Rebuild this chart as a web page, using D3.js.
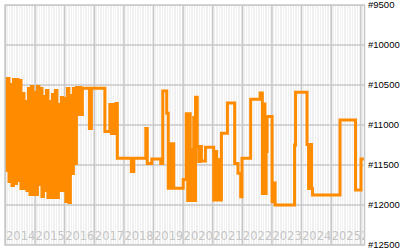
<!DOCTYPE html>
<html>
<head>
<meta charset="utf-8">
<script src="https://cdn.jsdelivr.net/npm/d3@7"></script>
<style>
  html, body { margin: 0; padding: 0; background: #fff; }
  svg { display: block; }
</style>
</head>
<body>
<div id="chart"></div>
<script>
// time as decimal years, rank as the plotted value (axis is inverted: lower rank on top)
const when = [
  2013.966, 2014.017, 2014.067, 2014.118, 2014.169, 2014.219, 2014.270, 2014.320,
  2014.371, 2014.422, 2014.472, 2014.523, 2014.573, 2014.624, 2014.675, 2014.725,
  2014.776, 2014.826, 2014.877, 2014.927, 2014.978, 2015.029, 2015.079, 2015.130,
  2015.180, 2015.231, 2015.282, 2015.332, 2015.383, 2015.433, 2015.484, 2015.535,
  2015.585, 2015.636, 2015.686, 2015.737, 2015.788, 2015.838, 2015.889, 2015.939,
  2015.990, 2016.040, 2016.091, 2016.142, 2016.192, 2016.243, 2016.293, 2016.344,
  2016.395, 2016.445, 2016.496, 2016.546, 2016.597,
  2016.833, 2016.900, 2017.356, 2017.524, 2017.575, 2017.626, 2017.676, 2017.727,
  2017.777, 2018.250, 2018.334, 2018.739, 2018.789, 2018.941, 2019.245, 2019.312,
  2019.447, 2019.497, 2019.582, 2019.683, 2020.003, 2020.105, 2020.155, 2020.189,
  2020.239, 2020.290, 2020.324, 2020.358, 2020.391, 2020.418, 2020.476, 2020.526,
  2020.577, 2020.617, 2020.752, 2021.032, 2021.083, 2021.133, 2021.184, 2021.234,
  2021.292, 2021.494, 2021.740, 2021.852, 2021.943, 2021.987, 2022.280, 2022.600,
  2022.675, 2022.718, 2022.762, 2022.803, 2022.836, 2023.005, 2023.056, 2023.106,
  2023.764, 2023.798, 2024.185, 2024.236, 2024.287, 2024.337, 2024.371, 2025.298,
  2025.821, 2026.007, 2026.159
];
const rank = [
  10419, 11569, 10419, 11706, 10494, 11756, 10431, 11731,
  10431, 11694, 10444, 11794, 10606, 11794, 10706, 11819,
  10544, 11869, 10519, 11869, 10594, 11869, 10519, 11744,
  10544, 11894, 10644, 11819, 10569, 11906, 10706, 11906,
  10619, 11906, 10569, 11906, 10744, 11819, 10656, 11819,
  10669, 11956, 10544, 11969, 10631, 11606, 10544, 11481,
  10531, 10869, 10531, 10869, 10540,
  11044, 10540, 11081, 10744, 11106, 10744, 11106, 10731,
  11417, 11581, 11417, 11044, 11481, 11425, 11480, 10575,
  10854, 11792, 11235, 11792, 11680, 10860, 11944, 10860,
  11944, 11306, 11944, 10906, 11944, 10652, 11269, 11456,
  11269, 11450, 11277, 11937, 11331, 11937, 11431, 11937,
  11104, 10725, 11480, 11604, 11896, 11417, 10679, 10600,
  11856, 10738, 11856, 11330, 10894, 11960, 11725, 12000,
  11250, 10590, 11244, 11794, 11244, 11794, 11875, 10937,
  11812, 11425, 11425
];
const yTicks = [9500, 10000, 10500, 11000, 11500, 12000, 12500];
const yearLabels = ["2014", "2015", "2016", "2017", "2018", "2019", "2020",
                    "2021", "2022", "2023", "2024", "2025", "2026"];

function toDate(v) {
  const yr = Math.floor(v);
  const a = Date.UTC(yr, 0, 1), b = Date.UTC(yr + 1, 0, 1);
  return new Date(a + (v - yr) * (b - a));
}

const width = 400, height = 250;
const plotLeft = 5, plotRight = 364.5, plotTop = 5, plotBottom = 245;

const x = d3.scaleUtc()
  .domain([toDate(2013.983), toDate(2026.125)])
  .range([plotLeft, plotRight]);
const y = d3.scaleLinear()
  .domain([9500, 12500])
  .range([plotTop, plotBottom]);

const svg = d3.select("#chart").append("svg")
  .attr("width", width)
  .attr("height", height);

svg.append("clipPath").attr("id", "plot")
  .append("rect")
  .attr("x", plotLeft).attr("y", plotTop)
  .attr("width", plotRight - plotLeft).attr("height", plotBottom - plotTop);

const plot = svg.append("g").attr("clip-path", "url(#plot)");

// striped background, one band per month
plot.append("rect")
  .attr("x", plotLeft).attr("y", plotTop)
  .attr("width", plotRight - plotLeft).attr("height", plotBottom - plotTop)
  .attr("fill", "#f0f0f0");

const months = d3.utcMonth.range(x.domain()[0], x.domain()[1]);
plot.append("g").selectAll("line")
  .data(months)
  .join("line")
  .attr("x1", d => Math.round(x(d)) + 0.5)
  .attr("x2", d => Math.round(x(d)) + 0.5)
  .attr("y1", plotTop).attr("y2", plotBottom)
  .style("stroke", "#fff")
  .style("stroke-width", 1);

// year labels inside the plot
plot.append("g").selectAll("text")
  .data(yearLabels)
  .join("text")
  .attr("x", d => x(Date.UTC(+d, 0, 1)) + 0.5)
  .attr("y", 240)
  .text(d => d)
  .style("font-family", "'DejaVu Sans', sans-serif")
  .style("font-size", "11.5px")
  .style("fill", "#c4c4c4");

// grid
plot.append("g").selectAll("line")
  .data(yearLabels)
  .join("line")
  .attr("x1", d => x(Date.UTC(+d, 0, 1)))
  .attr("x2", d => x(Date.UTC(+d, 0, 1)))
  .attr("y1", plotTop).attr("y2", plotBottom)
  .style("stroke", "#c8c8c8")
  .style("stroke-width", 1.5);

plot.append("g").selectAll("line")
  .data(yTicks)
  .join("line")
  .attr("x1", plotLeft).attr("x2", plotRight)
  .attr("y1", d => y(d)).attr("y2", d => y(d))
  .style("stroke", "#c8c8c8")
  .style("stroke-width", 1.5);

// the series
const data = when.map((t, i) => ({ date: toDate(t), value: rank[i] }));
const line = d3.line()
  .x(d => x(d.date))
  .y(d => y(d.value))
  .curve(d3.curveStepAfter);

plot.append("path")
  .datum(data)
  .attr("d", line)
  .style("fill", "none")
  .style("stroke", "#ff8c00")
  .style("stroke-width", 3)
  .style("stroke-linejoin", "miter");

// frame
svg.append("rect")
  .attr("x", plotLeft).attr("y", plotTop)
  .attr("width", plotRight - plotLeft).attr("height", plotBottom - plotTop)
  .style("fill", "none")
  .style("stroke", "#c8c8c8")
  .style("stroke-width", 1.5);

// y axis labels on the right
svg.append("g").selectAll("text")
  .data(yTicks)
  .join("text")
  .attr("x", 368)
  .attr("y", d => y(d))
  .attr("dy", "0.35em")
  .text(d => "#" + d)
  .style("font-family", "'Liberation Sans', Arial, sans-serif")
  .style("font-size", "9.5px")
  .style("fill", "#000");
</script>
</body>
</html>
